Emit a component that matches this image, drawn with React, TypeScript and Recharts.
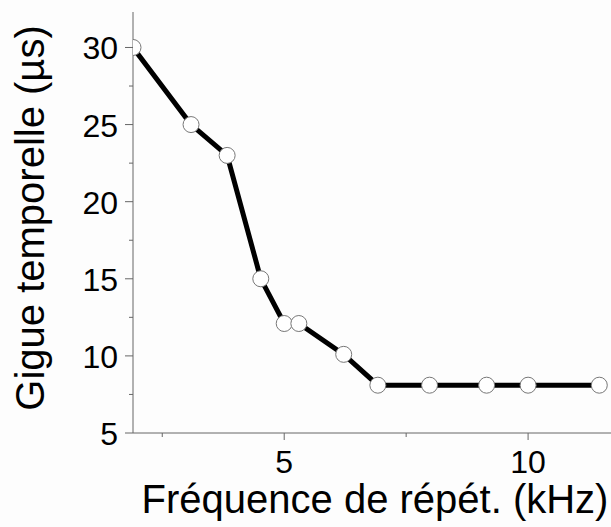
import { Line, LineChart, XAxis, YAxis } from "recharts";

const freqKHz = [1.9, 3.09, 3.83, 4.52, 5.0, 5.3, 6.22, 6.92, 7.98, 9.15, 10.0, 11.46];
const jitterUs = [30, 25, 23, 15, 12.1, 12.1, 10.1, 8.1, 8.1, 8.1, 8.1, 8.1];

const xTicks = [2.5, 5, 7.5, 10];
const yTicks = [5, 7.5, 10, 12.5, 15, 17.5, 20, 22.5, 25, 27.5, 30];

const xTitle = "Fréquence de répét. (kHz)";
const yTitle = "Gigue temporelle (µs)";

const data = freqKHz.map((f, i) => ({ f, jitter: jitterUs[i] }));

const font = "'Liberation Sans', Arial, sans-serif";
const axisColor = "#666";

function XTick({ x, y, payload }: any) {
  const major = payload.value % 5 === 0;
  return (
    <g>
      <line x1={x} x2={x} y1={y} y2={y + (major ? 7 : 4)} stroke={axisColor} strokeWidth={1} />
      {major && (
        <text x={x} y={y + 40} textAnchor="middle" fontSize={32} fontFamily={font} fill="#000">
          {payload.value}
        </text>
      )}
    </g>
  );
}

function YTick({ x, y, payload }: any) {
  const major = payload.value % 5 === 0;
  return (
    <g>
      <line x1={x - (major ? 8 : 4)} x2={x} y1={y} y2={y} stroke={axisColor} strokeWidth={1} />
      {major && (
        <text x={x - 15} y={y + 12} textAnchor="end" fontSize={32} fontFamily={font} fill="#000">
          {payload.value}
        </text>
      )}
    </g>
  );
}

export default function App() {
  return (
    <div style={{ position: "fixed", left: 0, top: 0, width: 611, height: 527, background: "#fdfdfd" }}>
      <LineChart width={611} height={527} data={data} margin={{ top: 12, right: 0, bottom: 0, left: 0 }}>
        <XAxis
          dataKey="f"
          type="number"
          domain={[1.9, 11.7]}
          ticks={xTicks}
          allowDataOverflow
          height={94}
          tickSize={0}
          tickMargin={0}
          tick={<XTick />}
          stroke={axisColor}
          label={{
            content: () => (
              <text x={375} y={513} textAnchor="middle" fontSize={40} fontFamily={font} fill="#000">
                {xTitle}
              </text>
            ),
          }}
        />
        <YAxis
          type="number"
          domain={[5, 32.3]}
          ticks={yTicks}
          allowDataOverflow
          width={133}
          tickSize={0}
          tickMargin={0}
          tick={<YTick />}
          stroke={axisColor}
          label={{
            content: () => (
              <text
                x={44}
                y={218}
                transform="rotate(-90, 44, 218)"
                textAnchor="middle"
                fontSize={40}
                fontFamily={font}
                fill="#000"
              >
                {yTitle}
              </text>
            ),
          }}
        />
        <Line
          dataKey="jitter"
          type="linear"
          stroke="#000"
          strokeWidth={5}
          dot={{ r: 8, fill: "#fff", stroke: "#777", strokeWidth: 1 }}
          isAnimationActive={false}
        />
      </LineChart>
    </div>
  );
}
